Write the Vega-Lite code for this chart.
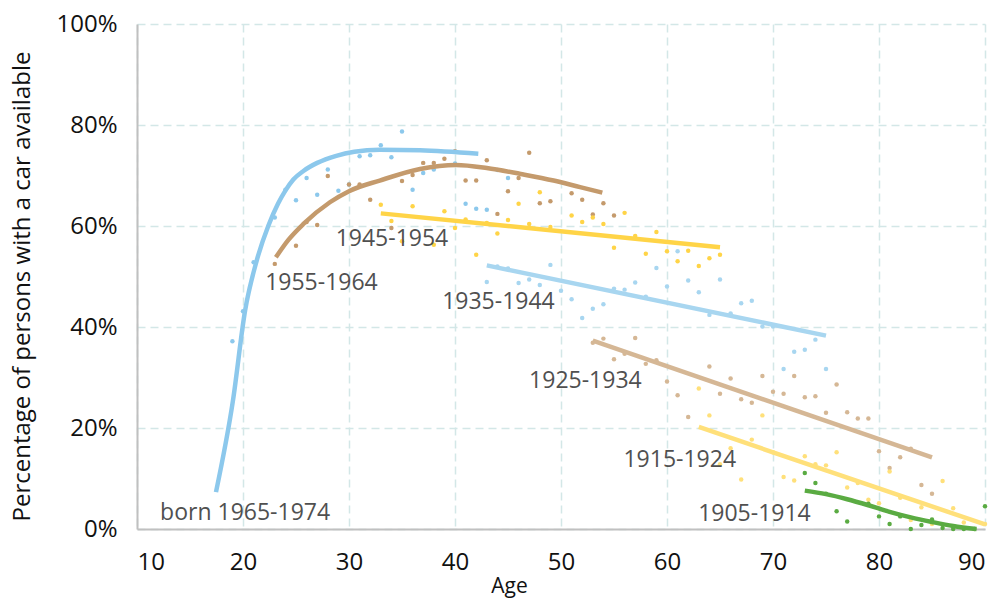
{
  "$schema": "https://vega.github.io/schema/vega-lite/v6.json",
  "width": 848,
  "height": 505,
  "autosize": "none",
  "padding": {"left": 137, "top": 24, "right": 15, "bottom": 70},
  "background": "white",
  "config": {
    "view": {"stroke": null},
    "font": "Open Sans",
    "axis": {
      "labelFont": "Open Sans",
      "titleFont": "Open Sans",
      "labelColor": "#111111",
      "titleColor": "#111111",
      "titleFontWeight": "normal",
      "domainColor": "#c0c0c0",
      "domainWidth": 2,
      "ticks": false,
      "gridColor": "#d3e7e7",
      "gridDash": [8, 5],
      "gridWidth": 1.5
    }
  },
  "datasets": {
    "pts": [
      {"cohort": "1965-1974", "age": 19, "pct": 37.2},
      {"cohort": "1965-1974", "age": 20, "pct": 43.1},
      {"cohort": "1965-1974", "age": 21, "pct": 52.8},
      {"cohort": "1965-1974", "age": 23, "pct": 61.7},
      {"cohort": "1965-1974", "age": 24, "pct": 67.2},
      {"cohort": "1965-1974", "age": 25, "pct": 65.1},
      {"cohort": "1965-1974", "age": 26, "pct": 69.5},
      {"cohort": "1965-1974", "age": 27, "pct": 66.2},
      {"cohort": "1965-1974", "age": 28, "pct": 71.2},
      {"cohort": "1965-1974", "age": 29, "pct": 67.0},
      {"cohort": "1965-1974", "age": 30, "pct": 68.2},
      {"cohort": "1965-1974", "age": 31, "pct": 73.8},
      {"cohort": "1965-1974", "age": 32, "pct": 74.0},
      {"cohort": "1965-1974", "age": 33, "pct": 76.0},
      {"cohort": "1965-1974", "age": 34, "pct": 73.6},
      {"cohort": "1965-1974", "age": 35, "pct": 78.7},
      {"cohort": "1965-1974", "age": 36, "pct": 67.2},
      {"cohort": "1965-1974", "age": 37, "pct": 70.5},
      {"cohort": "1965-1974", "age": 38, "pct": 71.2},
      {"cohort": "1965-1974", "age": 40, "pct": 72.4},
      {"cohort": "1965-1974", "age": 41, "pct": 64.4},
      {"cohort": "1965-1974", "age": 42, "pct": 63.4},
      {"cohort": "1965-1974", "age": 43, "pct": 63.2},
      {"cohort": "1965-1974", "age": 44, "pct": 71.1},
      {"cohort": "1965-1974", "age": 45, "pct": 69.5},
      {"cohort": "1955-1964", "age": 23, "pct": 52.5},
      {"cohort": "1955-1964", "age": 25, "pct": 56.1},
      {"cohort": "1955-1964", "age": 26, "pct": 60.8},
      {"cohort": "1955-1964", "age": 27, "pct": 60.2},
      {"cohort": "1955-1964", "age": 28, "pct": 69.9},
      {"cohort": "1955-1964", "age": 30, "pct": 68.2},
      {"cohort": "1955-1964", "age": 31, "pct": 68.2},
      {"cohort": "1955-1964", "age": 32, "pct": 65.2},
      {"cohort": "1955-1964", "age": 34, "pct": 59.6},
      {"cohort": "1955-1964", "age": 35, "pct": 68.9},
      {"cohort": "1955-1964", "age": 36, "pct": 70.1},
      {"cohort": "1955-1964", "age": 37, "pct": 72.5},
      {"cohort": "1955-1964", "age": 38, "pct": 72.5},
      {"cohort": "1955-1964", "age": 39, "pct": 73.3},
      {"cohort": "1955-1964", "age": 40, "pct": 74.8},
      {"cohort": "1955-1964", "age": 41, "pct": 69.0},
      {"cohort": "1955-1964", "age": 42, "pct": 69.0},
      {"cohort": "1955-1964", "age": 43, "pct": 73.0},
      {"cohort": "1955-1964", "age": 44, "pct": 62.4},
      {"cohort": "1955-1964", "age": 45, "pct": 66.9},
      {"cohort": "1955-1964", "age": 46, "pct": 69.5},
      {"cohort": "1955-1964", "age": 47, "pct": 74.5},
      {"cohort": "1955-1964", "age": 48, "pct": 64.5},
      {"cohort": "1955-1964", "age": 49, "pct": 64.9},
      {"cohort": "1955-1964", "age": 51, "pct": 66.5},
      {"cohort": "1955-1964", "age": 52, "pct": 65.2},
      {"cohort": "1955-1964", "age": 53, "pct": 62.3},
      {"cohort": "1955-1964", "age": 54, "pct": 64.5},
      {"cohort": "1955-1964", "age": 55, "pct": 62.1},
      {"cohort": "1945-1954", "age": 33, "pct": 64.2},
      {"cohort": "1945-1954", "age": 34, "pct": 61.0},
      {"cohort": "1945-1954", "age": 35, "pct": 57.0},
      {"cohort": "1945-1954", "age": 36, "pct": 63.9},
      {"cohort": "1945-1954", "age": 38, "pct": 56.3},
      {"cohort": "1945-1954", "age": 39, "pct": 62.9},
      {"cohort": "1945-1954", "age": 40, "pct": 59.6},
      {"cohort": "1945-1954", "age": 41, "pct": 61.3},
      {"cohort": "1945-1954", "age": 42, "pct": 54.3},
      {"cohort": "1945-1954", "age": 43, "pct": 60.6},
      {"cohort": "1945-1954", "age": 44, "pct": 58.5},
      {"cohort": "1945-1954", "age": 45, "pct": 61.2},
      {"cohort": "1945-1954", "age": 46, "pct": 64.4},
      {"cohort": "1945-1954", "age": 47, "pct": 60.4},
      {"cohort": "1945-1954", "age": 48, "pct": 66.7},
      {"cohort": "1945-1954", "age": 49, "pct": 59.8},
      {"cohort": "1945-1954", "age": 51, "pct": 62.1},
      {"cohort": "1945-1954", "age": 52, "pct": 60.8},
      {"cohort": "1945-1954", "age": 53, "pct": 61.7},
      {"cohort": "1945-1954", "age": 54, "pct": 60.4},
      {"cohort": "1945-1954", "age": 55, "pct": 55.7},
      {"cohort": "1945-1954", "age": 56, "pct": 62.6},
      {"cohort": "1945-1954", "age": 57, "pct": 58.0},
      {"cohort": "1945-1954", "age": 58, "pct": 54.5},
      {"cohort": "1945-1954", "age": 59, "pct": 58.8},
      {"cohort": "1945-1954", "age": 60, "pct": 55.0},
      {"cohort": "1945-1954", "age": 61, "pct": 53.0},
      {"cohort": "1945-1954", "age": 62, "pct": 55.1},
      {"cohort": "1945-1954", "age": 63, "pct": 52.1},
      {"cohort": "1945-1954", "age": 64, "pct": 53.6},
      {"cohort": "1945-1954", "age": 65, "pct": 54.3},
      {"cohort": "1935-1944", "age": 43, "pct": 48.9},
      {"cohort": "1935-1944", "age": 44, "pct": 52.0},
      {"cohort": "1935-1944", "age": 45, "pct": 51.6},
      {"cohort": "1935-1944", "age": 46, "pct": 48.7},
      {"cohort": "1935-1944", "age": 47, "pct": 49.4},
      {"cohort": "1935-1944", "age": 48, "pct": 48.3},
      {"cohort": "1935-1944", "age": 49, "pct": 52.3},
      {"cohort": "1935-1944", "age": 50, "pct": 47.2},
      {"cohort": "1935-1944", "age": 51, "pct": 45.5},
      {"cohort": "1935-1944", "age": 52, "pct": 41.8},
      {"cohort": "1935-1944", "age": 53, "pct": 43.6},
      {"cohort": "1935-1944", "age": 54, "pct": 44.5},
      {"cohort": "1935-1944", "age": 55, "pct": 47.6},
      {"cohort": "1935-1944", "age": 56, "pct": 47.4},
      {"cohort": "1935-1944", "age": 57, "pct": 48.8},
      {"cohort": "1935-1944", "age": 58, "pct": 46.0},
      {"cohort": "1935-1944", "age": 59, "pct": 51.7},
      {"cohort": "1935-1944", "age": 60, "pct": 48.0},
      {"cohort": "1935-1944", "age": 61, "pct": 55.0},
      {"cohort": "1935-1944", "age": 62, "pct": 49.2},
      {"cohort": "1935-1944", "age": 63, "pct": 46.9},
      {"cohort": "1935-1944", "age": 64, "pct": 42.4},
      {"cohort": "1935-1944", "age": 65, "pct": 49.4},
      {"cohort": "1935-1944", "age": 66, "pct": 42.7},
      {"cohort": "1935-1944", "age": 67, "pct": 44.7},
      {"cohort": "1935-1944", "age": 68, "pct": 45.2},
      {"cohort": "1935-1944", "age": 69, "pct": 40.1},
      {"cohort": "1935-1944", "age": 70, "pct": 40.1},
      {"cohort": "1935-1944", "age": 71, "pct": 31.7},
      {"cohort": "1935-1944", "age": 72, "pct": 35.1},
      {"cohort": "1935-1944", "age": 73, "pct": 35.5},
      {"cohort": "1935-1944", "age": 74, "pct": 37.5},
      {"cohort": "1935-1944", "age": 75, "pct": 31.7},
      {"cohort": "1925-1934", "age": 53, "pct": 36.9},
      {"cohort": "1925-1934", "age": 54, "pct": 37.7},
      {"cohort": "1925-1934", "age": 55, "pct": 33.6},
      {"cohort": "1925-1934", "age": 56, "pct": 34.7},
      {"cohort": "1925-1934", "age": 57, "pct": 37.8},
      {"cohort": "1925-1934", "age": 58, "pct": 32.7},
      {"cohort": "1925-1934", "age": 59, "pct": 33.4},
      {"cohort": "1925-1934", "age": 60, "pct": 29.2},
      {"cohort": "1925-1934", "age": 61, "pct": 26.5},
      {"cohort": "1925-1934", "age": 62, "pct": 22.2},
      {"cohort": "1925-1934", "age": 64, "pct": 32.2},
      {"cohort": "1925-1934", "age": 65, "pct": 26.8},
      {"cohort": "1925-1934", "age": 66, "pct": 29.8},
      {"cohort": "1925-1934", "age": 67, "pct": 25.7},
      {"cohort": "1925-1934", "age": 68, "pct": 25.0},
      {"cohort": "1925-1934", "age": 69, "pct": 30.3},
      {"cohort": "1925-1934", "age": 70, "pct": 27.2},
      {"cohort": "1925-1934", "age": 71, "pct": 26.8},
      {"cohort": "1925-1934", "age": 72, "pct": 30.3},
      {"cohort": "1925-1934", "age": 73, "pct": 26.1},
      {"cohort": "1925-1934", "age": 74, "pct": 26.3},
      {"cohort": "1925-1934", "age": 75, "pct": 23.0},
      {"cohort": "1925-1934", "age": 76, "pct": 28.6},
      {"cohort": "1925-1934", "age": 77, "pct": 23.1},
      {"cohort": "1925-1934", "age": 78, "pct": 21.9},
      {"cohort": "1925-1934", "age": 79, "pct": 21.9},
      {"cohort": "1925-1934", "age": 80, "pct": 15.4},
      {"cohort": "1925-1934", "age": 81, "pct": 12.1},
      {"cohort": "1925-1934", "age": 82, "pct": 14.2},
      {"cohort": "1925-1934", "age": 83, "pct": 15.9},
      {"cohort": "1925-1934", "age": 84, "pct": 8.7},
      {"cohort": "1925-1934", "age": 85, "pct": 7.0},
      {"cohort": "1915-1924", "age": 63, "pct": 27.8},
      {"cohort": "1915-1924", "age": 64, "pct": 22.5},
      {"cohort": "1915-1924", "age": 65, "pct": 12.8},
      {"cohort": "1915-1924", "age": 66, "pct": 16.0},
      {"cohort": "1915-1924", "age": 67, "pct": 9.8},
      {"cohort": "1915-1924", "age": 68, "pct": 17.7},
      {"cohort": "1915-1924", "age": 69, "pct": 22.5},
      {"cohort": "1915-1924", "age": 70, "pct": 15.2},
      {"cohort": "1915-1924", "age": 71, "pct": 10.3},
      {"cohort": "1915-1924", "age": 72, "pct": 9.6},
      {"cohort": "1915-1924", "age": 73, "pct": 14.4},
      {"cohort": "1915-1924", "age": 74, "pct": 12.8},
      {"cohort": "1915-1924", "age": 75, "pct": 12.6},
      {"cohort": "1915-1924", "age": 76, "pct": 15.2},
      {"cohort": "1915-1924", "age": 77, "pct": 8.2},
      {"cohort": "1915-1924", "age": 78, "pct": 9.1},
      {"cohort": "1915-1924", "age": 79, "pct": 5.8},
      {"cohort": "1915-1924", "age": 80, "pct": 5.1},
      {"cohort": "1915-1924", "age": 81, "pct": 11.4},
      {"cohort": "1915-1924", "age": 82, "pct": 6.2},
      {"cohort": "1915-1924", "age": 83, "pct": 1.8},
      {"cohort": "1915-1924", "age": 84, "pct": 4.3},
      {"cohort": "1915-1924", "age": 85, "pct": 1.0},
      {"cohort": "1915-1924", "age": 86, "pct": 9.5},
      {"cohort": "1915-1924", "age": 87, "pct": 4.1},
      {"cohort": "1915-1924", "age": 88, "pct": 1.3},
      {"cohort": "1915-1924", "age": 90, "pct": 1.0},
      {"cohort": "1905-1914", "age": 73, "pct": 11.1},
      {"cohort": "1905-1914", "age": 74, "pct": 9.1},
      {"cohort": "1905-1914", "age": 75, "pct": 7.0},
      {"cohort": "1905-1914", "age": 76, "pct": 3.5},
      {"cohort": "1905-1914", "age": 77, "pct": 1.5},
      {"cohort": "1905-1914", "age": 79, "pct": 5.0},
      {"cohort": "1905-1914", "age": 80, "pct": 2.5},
      {"cohort": "1905-1914", "age": 81, "pct": 1.0},
      {"cohort": "1905-1914", "age": 82, "pct": 2.5},
      {"cohort": "1905-1914", "age": 83, "pct": 0.0},
      {"cohort": "1905-1914", "age": 84, "pct": 0.8},
      {"cohort": "1905-1914", "age": 85, "pct": 1.9},
      {"cohort": "1905-1914", "age": 86, "pct": 0.2},
      {"cohort": "1905-1914", "age": 87, "pct": 0.0},
      {"cohort": "1905-1914", "age": 88, "pct": 0.0},
      {"cohort": "1905-1914", "age": 89, "pct": 0.0},
      {"cohort": "1905-1914", "age": 90, "pct": 4.5}
    ],
    "fits": [
      {"cohort": "1965-1974", "age": 17.45, "pct": 7.3},
      {"cohort": "1965-1974", "age": 19.05, "pct": 25.4},
      {"cohort": "1965-1974", "age": 20.2, "pct": 43.3},
      {"cohort": "1965-1974", "age": 21.3, "pct": 53.2},
      {"cohort": "1965-1974", "age": 22.4, "pct": 60.1},
      {"cohort": "1965-1974", "age": 23.3, "pct": 64.4},
      {"cohort": "1965-1974", "age": 24.0, "pct": 67.0},
      {"cohort": "1965-1974", "age": 24.75, "pct": 69.2},
      {"cohort": "1965-1974", "age": 25.7, "pct": 70.9},
      {"cohort": "1965-1974", "age": 27.0, "pct": 72.5},
      {"cohort": "1965-1974", "age": 28.8, "pct": 73.9},
      {"cohort": "1965-1974", "age": 30.5, "pct": 74.7},
      {"cohort": "1965-1974", "age": 32.9, "pct": 75.1},
      {"cohort": "1965-1974", "age": 36.7, "pct": 75.0},
      {"cohort": "1965-1974", "age": 42.2, "pct": 74.3},
      {"cohort": "1955-1964", "age": 23.1, "pct": 53.8},
      {"cohort": "1955-1964", "age": 24.3, "pct": 57.3},
      {"cohort": "1955-1964", "age": 25.7, "pct": 60.4},
      {"cohort": "1955-1964", "age": 28.2, "pct": 64.7},
      {"cohort": "1955-1964", "age": 30.0, "pct": 66.9},
      {"cohort": "1955-1964", "age": 32.9, "pct": 69.0},
      {"cohort": "1955-1964", "age": 36.7, "pct": 71.3},
      {"cohort": "1955-1964", "age": 40.1, "pct": 72.1},
      {"cohort": "1955-1964", "age": 43.0, "pct": 71.5},
      {"cohort": "1955-1964", "age": 46.2, "pct": 70.3},
      {"cohort": "1955-1964", "age": 49.3, "pct": 69.0},
      {"cohort": "1955-1964", "age": 51.8, "pct": 67.7},
      {"cohort": "1955-1964", "age": 53.9, "pct": 66.6},
      {"cohort": "1945-1954", "age": 33.0, "pct": 62.5},
      {"cohort": "1945-1954", "age": 65.0, "pct": 55.8},
      {"cohort": "1935-1944", "age": 43.0, "pct": 52.2},
      {"cohort": "1935-1944", "age": 75.0, "pct": 38.3},
      {"cohort": "1925-1934", "age": 53.0, "pct": 37.3},
      {"cohort": "1925-1934", "age": 85.0, "pct": 14.2},
      {"cohort": "1915-1924", "age": 63.0, "pct": 20.2},
      {"cohort": "1915-1924", "age": 90.0, "pct": 0.9},
      {"cohort": "1905-1914", "age": 73.0, "pct": 7.6},
      {"cohort": "1905-1914", "age": 75.0, "pct": 6.9},
      {"cohort": "1905-1914", "age": 77.0, "pct": 5.9},
      {"cohort": "1905-1914", "age": 79.0, "pct": 4.7},
      {"cohort": "1905-1914", "age": 81.0, "pct": 3.4},
      {"cohort": "1905-1914", "age": 83.0, "pct": 2.3},
      {"cohort": "1905-1914", "age": 85.0, "pct": 1.4},
      {"cohort": "1905-1914", "age": 87.0, "pct": 0.6},
      {"cohort": "1905-1914", "age": 89.2, "pct": 0.0}
    ],
    "labels": [
      {"text": "born 1965-1974", "age": 20.2, "pct": 3.1},
      {"text": "1955-1964", "age": 27.4, "pct": 48.8},
      {"text": "1945-1954", "age": 34.05, "pct": 57.5},
      {"text": "1935-1944", "age": 44.1, "pct": 45.0},
      {"text": "1925-1934", "age": 52.3, "pct": 29.4},
      {"text": "1915-1924", "age": 61.2, "pct": 13.7},
      {"text": "1905-1914", "age": 68.25, "pct": 3.0}
    ]
  },
  "encoding": {
    "x": {
      "field": "age", "type": "quantitative",
      "scale": {"domain": [10, 90], "nice": false, "zero": false},
      "axis": {
        "values": [10, 20, 30, 40, 50, 60, 70, 80, 90],
        "title": "Age",
        "titleFontSize": 21,
        "titleX": 372,
        "titleY": 63,
        "titleBaseline": "alphabetic",
        "labelFontSize": 24,
        "labelPadding": 21
      }
    },
    "y": {
      "field": "pct", "type": "quantitative",
      "scale": {"domain": [0, 100], "nice": false},
      "axis": {
        "values": [0, 20, 40, 60, 80, 100],
        "labelExpr": "datum.value + '%'",
        "title": "Percentage of persons with a car available",
        "titleFontSize": 24,
        "titleX": -115,
        "titleY": 262,
        "titleAngle": -90,
        "titleAlign": "center",
        "titleBaseline": "middle",
        "labelFontSize": 24,
        "labelPadding": 20
      }
    },
    "color": {
      "field": "cohort", "type": "nominal", "legend": null,
      "scale": {
        "domain": ["1965-1974", "1955-1964", "1945-1954", "1935-1944", "1925-1934", "1915-1924", "1905-1914"],
        "range": ["#8cc8ec", "#c49a6c", "#ffd447", "#a8d6f0", "#d5b795", "#ffe07a", "#5aab42"]
      }
    }
  },
  "layer": [
    {
      "data": {"name": "pts"},
      "mark": {"type": "circle", "size": 20, "opacity": 1}
    },
    {
      "data": {"name": "fits"},
      "mark": {"type": "line", "strokeWidth": 4.5, "interpolate": "monotone", "strokeCap": "butt"},
      "encoding": {"detail": {"field": "cohort"}}
    },
    {
      "data": {"name": "labels"},
      "mark": {"type": "text", "fontSize": 23, "align": "center", "baseline": "middle", "font": "Open Sans"},
      "encoding": {
        "text": {"field": "text"},
        "color": {"value": "#505050"}
      }
    }
  ]
}
